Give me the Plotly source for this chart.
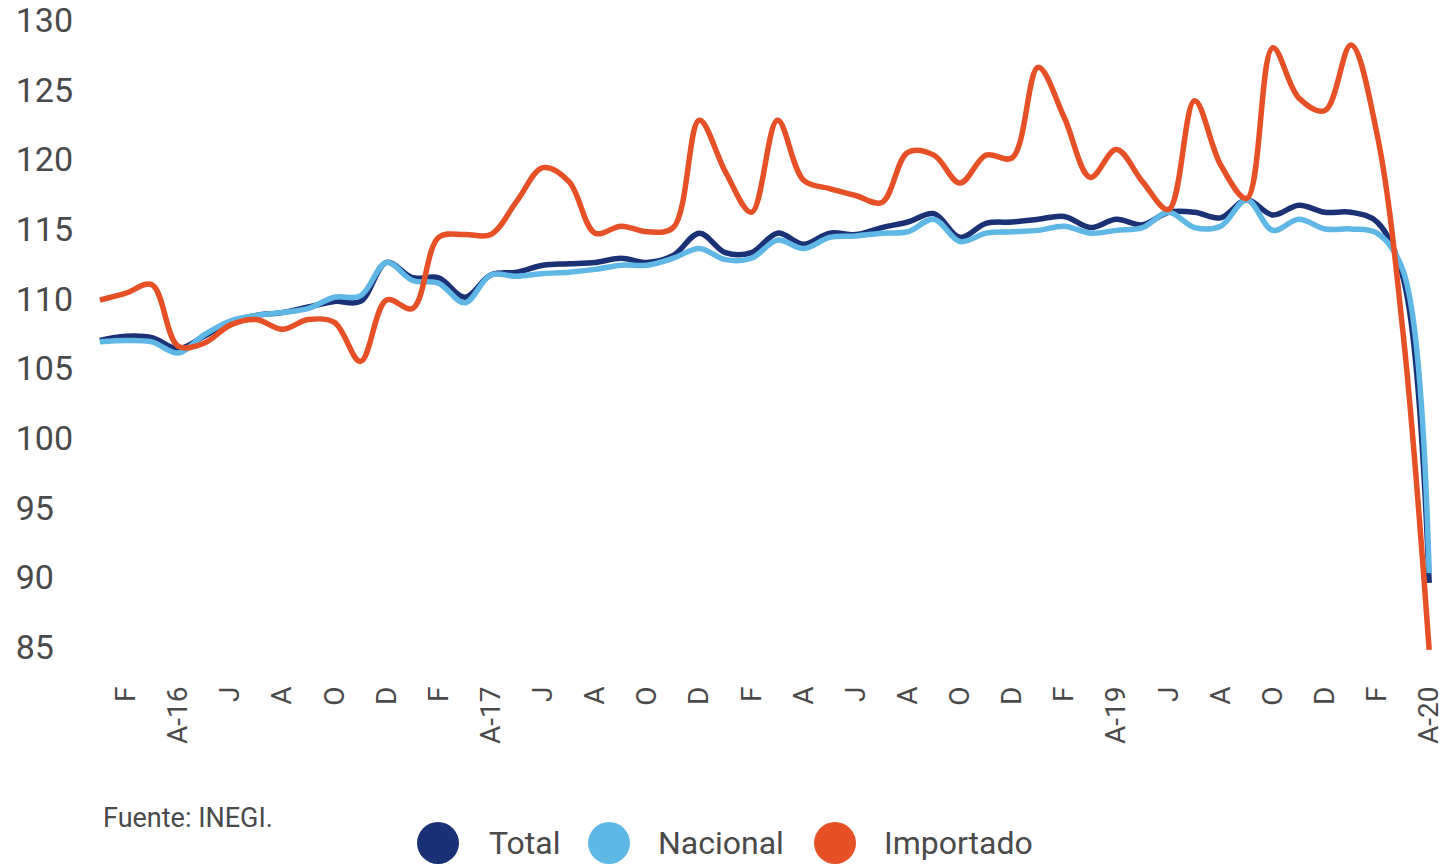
import plotly.graph_objects as go

# Months Jan-2016 .. Apr-2020
months = [f"{y}-{m:02d}" for y in range(2016, 2021) for m in range(1, 13)][:52]

total = [107.0, 107.3, 107.2, 106.4, 107.3, 108.3, 108.8, 109.0, 109.4, 109.8, 109.8, 112.6,
         111.5, 111.5, 110.1, 111.7, 111.9, 112.4, 112.5, 112.6, 112.9, 112.6, 113.1, 114.7,
         113.3, 113.3, 114.7, 113.9, 114.7, 114.6, 115.1, 115.5, 116.1, 114.4, 115.4, 115.5,
         115.7, 115.9, 115.1, 115.7, 115.3, 116.2, 116.2, 115.8, 117.1, 116.0, 116.7, 116.2,
         116.2, 115.5, 111.5, 89.6]

nacional = [106.9, 107.0, 106.9, 106.1, 107.4, 108.4, 108.8, 109.0, 109.3, 110.1, 110.2, 112.6,
            111.3, 111.1, 109.7, 111.7, 111.6, 111.8, 111.9, 112.1, 112.4, 112.4, 112.9, 113.6,
            112.8, 112.9, 114.2, 113.6, 114.4, 114.5, 114.7, 114.8, 115.7, 114.1, 114.7, 114.8,
            114.9, 115.2, 114.7, 114.9, 115.1, 116.2, 115.1, 115.2, 117.1, 114.9, 115.7, 115.0,
            115.0, 114.7, 112.0, 90.3]

importado = [109.9, 110.4, 111.0, 106.6, 106.8, 108.1, 108.5, 107.8, 108.5, 108.3, 105.5, 109.9,
             109.3, 114.4, 114.6, 114.6, 117.0, 119.4, 118.4, 114.7, 115.2, 114.8, 115.1, 122.8,
             119.1, 116.2, 122.8, 118.5, 117.9, 117.4, 116.9, 120.5, 120.3, 118.3, 120.3, 120.1,
             126.6, 123.0, 118.7, 120.7, 118.4, 116.4, 124.2, 119.6, 117.2, 128.0, 124.4, 123.5,
             128.2, 121.8, 107.5, 84.8]

tick_labels = ["F", "A-16", "J", "A", "O", "D", "F", "A-17", "J", "A", "O", "D",
               "F", "A", "J", "A", "O", "D", "F", "A-19", "J", "A", "O", "D", "F", "A-20"]
tick_months = months[1::2]

y_ticks = [85, 90, 95, 100, 105, 110, 115, 120, 125, 130]
y_tick_text = [f"{v}" if v >= 100 else f"{v}\u2007" for v in y_ticks]

series_names = ["Total", "Nacional", "Importado"]
series_colors = ["#1b3175", "#5fb7e5", "#e65026"]
series_values = [total, nacional, importado]

TEXT = "#4a4a4a"
FONT = "Roboto"

fig = go.Figure()
for name, color, vals in zip(series_names, series_colors, series_values):
    fig.add_trace(go.Scatter(
        x=months, y=vals, name=name, mode="lines",
        line=dict(color=color, width=5.5, shape="spline", smoothing=1),
        showlegend=False,
    ))

W, H = 1441, 866
ml, mr, mt, mb = 92, 4, 6, 205
pw, ph = W - ml - mr, H - mt - mb

def px_x(p):
    return (p - ml) / pw

def px_y(p):
    return (H - mb - p) / ph

fig.update_layout(
    width=W, height=H,
    margin=dict(l=ml, r=mr, t=mt, b=mb, pad=0, autoexpand=False),
    paper_bgcolor="white", plot_bgcolor="white",
    font=dict(family=FONT, color=TEXT),
    xaxis=dict(
        type="category", range=[-0.3, 51.3], automargin=False,
        tickmode="array", tickvals=tick_months, ticktext=tick_labels,
        tickangle=-90, tickfont=dict(size=28, color=TEXT, family=FONT),
        showgrid=False, zeroline=False, showline=False, ticks="",
        ticklabelstandoff=19, ticklabeloverflow="allow",
    ),
    yaxis=dict(
        range=[84, 131], automargin=False,
        tickmode="array", tickvals=y_ticks, ticktext=y_tick_text,
        tickfont=dict(size=34, color=TEXT, family=FONT),
        showgrid=False, zeroline=False, showline=False, ticks="",
        ticklabelstandoff=18, ticklabeloverflow="allow",
    ),
)

# Source note
fig.add_annotation(
    text="Fuente: INEGI.", xref="paper", yref="paper",
    x=px_x(101), y=px_y(818), xanchor="left", yanchor="middle",
    showarrow=False, font=dict(size=27, color=TEXT, family=FONT),
)

# Custom legend with large dots
legend_dot_x = [438, 609, 835]
legend_text_x = [487, 656, 882]
legend_y = 843
for name, color, dx, tx in zip(series_names, series_colors, legend_dot_x, legend_text_x):
    fig.add_shape(
        type="circle", xref="paper", yref="paper",
        xsizemode="pixel", ysizemode="pixel",
        xanchor=px_x(dx), yanchor=px_y(legend_y),
        x0=-21, x1=21, y0=-21, y1=21,
        fillcolor=color, line=dict(width=0),
    )
    fig.add_annotation(
        text=name, xref="paper", yref="paper",
        x=px_x(tx), y=px_y(legend_y), xanchor="left", yanchor="middle",
        showarrow=False, font=dict(size=32, color=TEXT, family=FONT),
    )

fig.write_html(
    "out.html",
    config={"displayModeBar": False},
    post_script="document.body.style.margin='0';document.body.style.overflow='hidden';",
)
